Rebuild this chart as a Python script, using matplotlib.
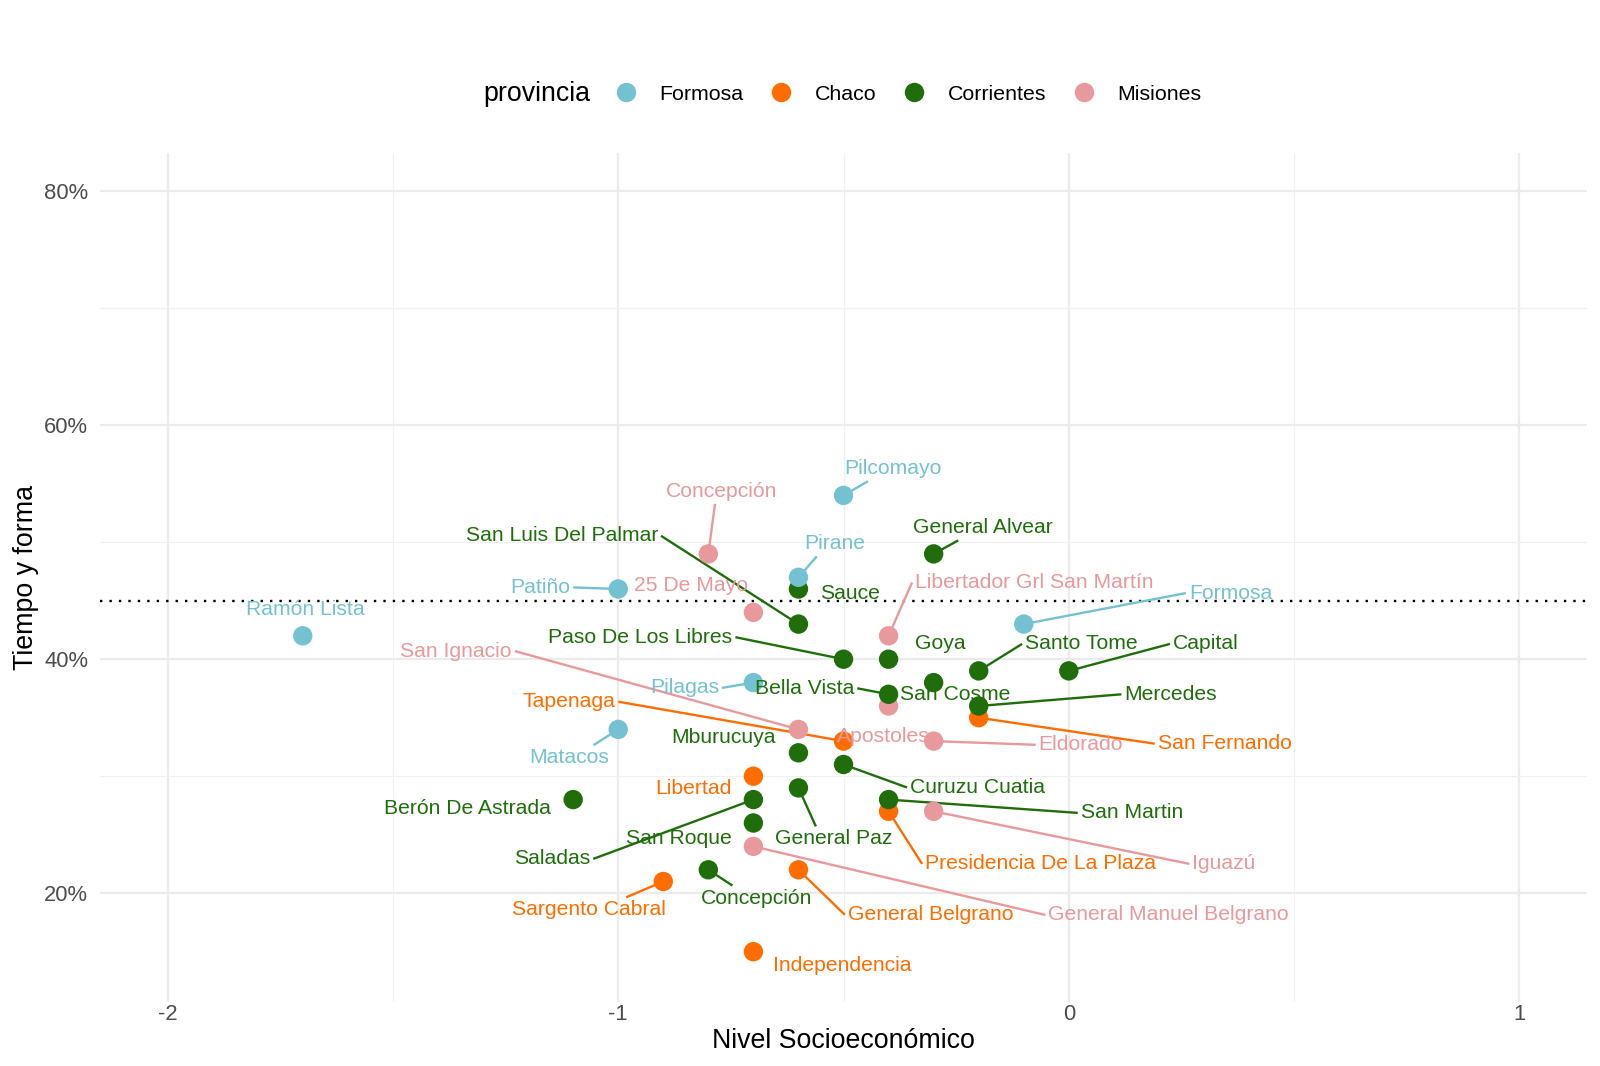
import matplotlib
matplotlib.use("Agg")
import matplotlib.pyplot as plt
from matplotlib.lines import Line2D
from matplotlib.ticker import FixedLocator, PercentFormatter

plt.rcParams['font.family'] = ['Liberation Sans', 'DejaVu Sans']

# ---------------- data ----------------
provinces = ['Formosa', 'Chaco', 'Corrientes', 'Misiones']
prov_colors = ['#74C1D2', '#FF6C00', '#1F6E0B', '#E8999B']

formosa_names = ['Ramón Lista', 'Patiño', 'Pilcomayo', 'Pirane', 'Formosa', 'Pilagas', 'Matacos']
formosa_nse = [-1.7, -1.0, -0.5, -0.6, -0.1, -0.7, -1.0]
formosa_tyf = [0.42, 0.46, 0.54, 0.47, 0.43, 0.38, 0.34]

chaco_names = ['Tapenaga', 'San Fernando', 'Libertad', 'Presidencia De La Plaza',
               'General Belgrano', 'Sargento Cabral', 'Independencia']
chaco_nse = [-0.5, -0.2, -0.7, -0.4, -0.6, -0.9, -0.7]
chaco_tyf = [0.33, 0.35, 0.30, 0.27, 0.22, 0.21, 0.15]

corrientes_names = ['General Alvear', 'San Luis Del Palmar', 'Sauce', 'Paso De Los Libres',
                    'Goya', 'Santo Tome', 'Capital', 'Mercedes', 'Bella Vista', 'San Cosme',
                    'Mburucuya', 'Curuzu Cuatia', 'Berón De Astrada', 'San Martin',
                    'General Paz', 'Saladas', 'San Roque', 'Concepción']
corrientes_nse = [-0.3, -0.6, -0.6, -0.5, -0.4, -0.2, 0.0, -0.2, -0.4, -0.3,
                  -0.6, -0.5, -1.1, -0.4, -0.6, -0.7, -0.7, -0.8]
corrientes_tyf = [0.49, 0.43, 0.46, 0.40, 0.40, 0.39, 0.39, 0.36, 0.37, 0.38,
                  0.32, 0.31, 0.28, 0.28, 0.29, 0.28, 0.26, 0.22]

misiones_names = ['Concepción', '25 De Mayo', 'Libertador Grl San Martín', 'San Ignacio',
                  'Apostoles', 'Eldorado', 'Iguazú', 'General Manuel Belgrano']
misiones_nse = [-0.8, -0.7, -0.4, -0.6, -0.4, -0.3, -0.3, -0.7]
misiones_tyf = [0.49, 0.44, 0.42, 0.34, 0.36, 0.33, 0.27, 0.24]

reference_line = 0.45
x_ticks = [-2, -1, 0, 1]
y_ticks = [0.2, 0.4, 0.6, 0.8]

# ---------------- label layout (pixel offsets, segment flag) ----------------
formosa_layout = [(2.5, -26.5, 0), (-78, -1.6, 1), (49, -26.7, 1), (36.7, -33.4, 1),
                  (206.7, -31, 1), (-69, 5.3, 1), (-49.5, 28.3, 1)]
chaco_layout = [(-274.7, -39.4, 1), (246, 26, 1), (-60.2, 12.3, 0), (152, 52.6, 1),
                (132.1, 45, 1), (-74.1, 28.3, 1), (88.4, 14, 0)]
corrientes_layout = [(49.2, -26, 1), (-236.6, -88.3, 1), (51.2, 4, 0), (-203.2, -22, 1),
                     (51.7, -15.3, 0), (102.7, -27, 1), (137, -27, 1), (192, -11.7, 1),
                     (-84, -6, 1), (22, 11.7, 0), (-75, -15, 0), (134, 23, 1),
                     (-105.8, 9, 0), (243.3, 13.3, 1), (34.8, 51, 1), (-201.3, 59.3, 1),
                     (-75, 16, 0), (48.3, 28.3, 1)]
misiones_layout = [(13.4, -62.6, 1), (-62, -26.7, 0), (145.7, -53.3, 1), (-342.3, -78.3, 1),
                   (-5.3, 31, 0), (147.3, 3.7, 1), (290.4, 52.6, 1), (415.3, 68.6, 1)]

groups = {
    'Formosa': (formosa_names, formosa_nse, formosa_tyf, formosa_layout),
    'Chaco': (chaco_names, chaco_nse, chaco_tyf, chaco_layout),
    'Corrientes': (corrientes_names, corrientes_nse, corrientes_tyf, corrientes_layout),
    'Misiones': (misiones_names, misiones_nse, misiones_tyf, misiones_layout),
}
color_of = dict(zip(provinces, prov_colors))
draw_order = ['Chaco', 'Misiones', 'Corrientes', 'Formosa']

# ---------------- figure ----------------
fig = plt.figure(figsize=(16, 10.66), dpi=100)
ax = fig.add_axes([0.0625, 0.06004, 0.9294, 0.7968])
ax.set_xlim(-2.15, 1.15)
ax.set_ylim(0.107, 0.833)

for s in ax.spines.values():
    s.set_visible(False)

ax.xaxis.set_major_locator(FixedLocator(x_ticks))
ax.xaxis.set_minor_locator(FixedLocator([-1.5, -0.5, 0.5]))
ax.yaxis.set_major_locator(FixedLocator(y_ticks))
ax.yaxis.set_minor_locator(FixedLocator([0.3, 0.5, 0.7]))
ax.yaxis.set_major_formatter(PercentFormatter(1.0, decimals=0))
ax.set_xticklabels([str(v) for v in x_ticks])
ax.grid(which='major', color='#EBEBEB', linewidth=1.6, zorder=0)
ax.grid(which='minor', color='#F0F0F0', linewidth=0.9, zorder=0)
ax.set_axisbelow(True)
ax.tick_params(which='both', length=0)
ax.tick_params(axis='y', labelsize=15.8, labelcolor='#4D4D4D', pad=8.5)
ax.tick_params(axis='x', labelsize=15.8, labelcolor='#4D4D4D', pad=1.5)

ax.axhline(reference_line, color='black', linestyle=(0, (1, 3)), linewidth=1.7, zorder=1.8)

for prov in draw_order:
    names, xs, ys, lay = groups[prov]
    ax.scatter(xs, ys, s=195, color=color_of[prov], edgecolors='none', zorder=2)

annots = []
for prov in provinces:
    names, xs, ys, lay = groups[prov]
    for n, x, y, (dx, dy, seg) in zip(names, xs, ys, lay):
        a = ax.annotate(n, (x, y), xytext=(dx, -dy), textcoords='offset pixels',
                        ha='center', va='center', fontsize=15.2, color=color_of[prov],
                        zorder=3)
        annots.append((a, x, y, color_of[prov], seg))

ax.set_xlabel('Nivel Socioeconómico', fontsize=19.3, color='black')
ax.set_ylabel('Tiempo y forma', fontsize=19.3, color='black')
ax.xaxis.set_label_coords(0.5, -0.046)
ax.xaxis.label.set_va('center')
ax.yaxis.set_label_coords(-0.050, 0.5)
ax.yaxis.label.set_va('center')

# legend
handles = [Line2D([0], [0], marker='o', linestyle='none', markersize=14,
                  markerfacecolor=c, markeredgecolor='none') for c in prov_colors]
fig.legend(handles, provinces, loc='center left', bbox_to_anchor=(0.3779, 0.9117),
           ncol=4, frameon=False, fontsize=15.4, handlelength=1.0,
           handletextpad=1.06, columnspacing=1.27, borderpad=0)
fig.text(0.3023, 0.9117, 'provincia', fontsize=19.3, ha='left', va='center')

# segments (ggrepel style)
fig.canvas.draw()
renderer = fig.canvas.get_renderer()
inv = ax.transData.inverted()
for a, x, y, col, seg in annots:
    if not seg:
        continue
    bb = a.get_window_extent(renderer)
    X, Y = ax.transData.transform((x, y))
    cx, cy = (bb.x0 + bb.x1) / 2, (bb.y0 + bb.y1) / 2
    gap = 3
    if X < bb.x0 - 10:
        ex, ey = bb.x0 - gap, cy
    elif X > bb.x1 + 10:
        ex, ey = bb.x1 + gap, cy
    else:
        ex = (X + cx) / 2
        ey = bb.y0 - gap if Y < cy else bb.y1 + gap
    d0 = inv.transform((X, Y))
    d1 = inv.transform((ex, ey))
    ax.plot([d0[0], d1[0]], [d0[1], d1[1]], color=col, linewidth=1.7,
            solid_capstyle='butt', zorder=1.9)

fig.savefig('out.png', dpi=100)
